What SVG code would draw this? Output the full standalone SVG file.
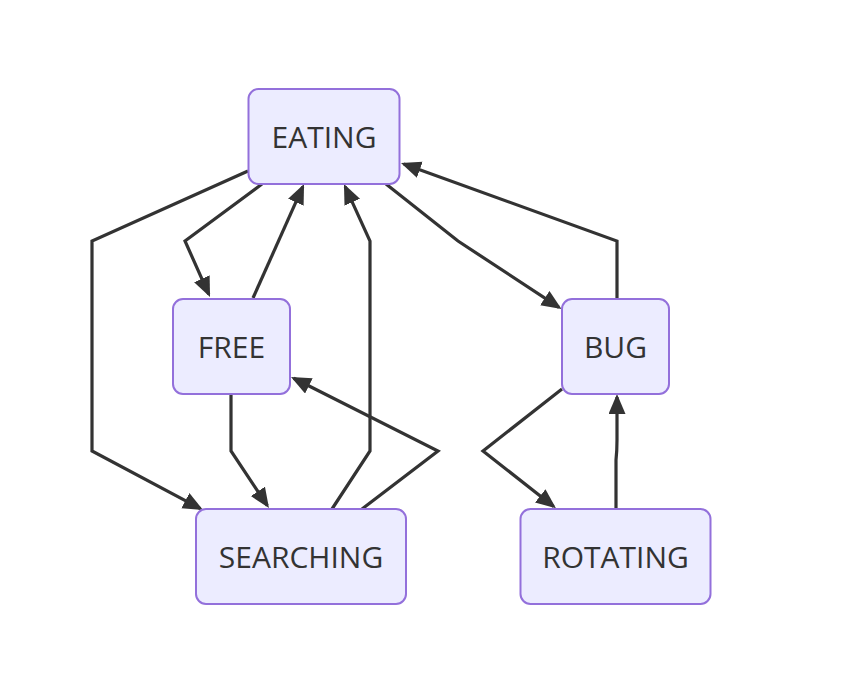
<svg xmlns="http://www.w3.org/2000/svg" width="864" height="676" viewBox="0 0 864 676">
<style>
.node rect{fill:#ECECFF;stroke:#9370DB;stroke-width:2}
.node text{font-family:"Open Sans","Noto Sans",sans-serif;font-size:30px;fill:#333;text-anchor:middle;dominant-baseline:central}
.edge{fill:none;stroke:#333;stroke-width:3.2;stroke-linejoin:miter}
</style>
<defs>
<marker id="arr" markerUnits="userSpaceOnUse" markerWidth="20" markerHeight="18" refX="17" refY="8.5" orient="auto">
<path d="M0,0 L20,8.5 L0,17 z" fill="#333"/>
</marker>
</defs>
<rect width="864" height="676" fill="#fff"/>
<g id="edges">
<path class="edge" marker-end="url(#arr)" d="M248,171 L92,241 L92,451 L200.4,508.6"/>
<path class="edge" marker-end="url(#arr)" d="M262,184 L185,241 L208.8,294.3"/>
<path class="edge" marker-end="url(#arr)" d="M253,298 L302.8,186.7"/>
<path class="edge" marker-end="url(#arr)" d="M332,509 L370,451 L370,241 L345.2,186.7"/>
<path class="edge" marker-end="url(#arr)" d="M362,509 L438,451 L293.7,378.3"/>
<path class="edge" marker-end="url(#arr)" d="M231,394 L231,451 L267.3,505.5"/>
<path class="edge" marker-end="url(#arr)" d="M386,184 L458,241 L559,307.4"/>
<path class="edge" marker-end="url(#arr)" d="M617,299 L617,241 L403.8,164"/>
<path class="edge" marker-end="url(#arr)" d="M562,389 L483,451 L553.6,506.4"/>
<path class="edge" marker-end="url(#arr)" d="M616,509 L616,460 Q617,451 617,440 L617,397"/>
</g>
<g id="EATING" class="node"><rect x="248.5" y="89" width="151" height="95" rx="10"/><text x="324" y="136">EATING</text></g>
<g id="FREE" class="node"><rect x="173" y="299" width="117" height="95" rx="10"/><text x="231.5" y="346.5">FREE</text></g>
<g id="SEARCHING" class="node"><rect x="196" y="509" width="210" height="95" rx="10"/><text x="301" y="556.5">SEARCHING</text></g>
<g id="BUG" class="node"><rect x="562" y="299" width="107" height="95" rx="10"/><text x="615.5" y="346.5">BUG</text></g>
<g id="ROTATING" class="node"><rect x="520.5" y="509" width="190" height="95" rx="10"/><text x="615.5" y="556.5">ROTATING</text></g>
</svg>
